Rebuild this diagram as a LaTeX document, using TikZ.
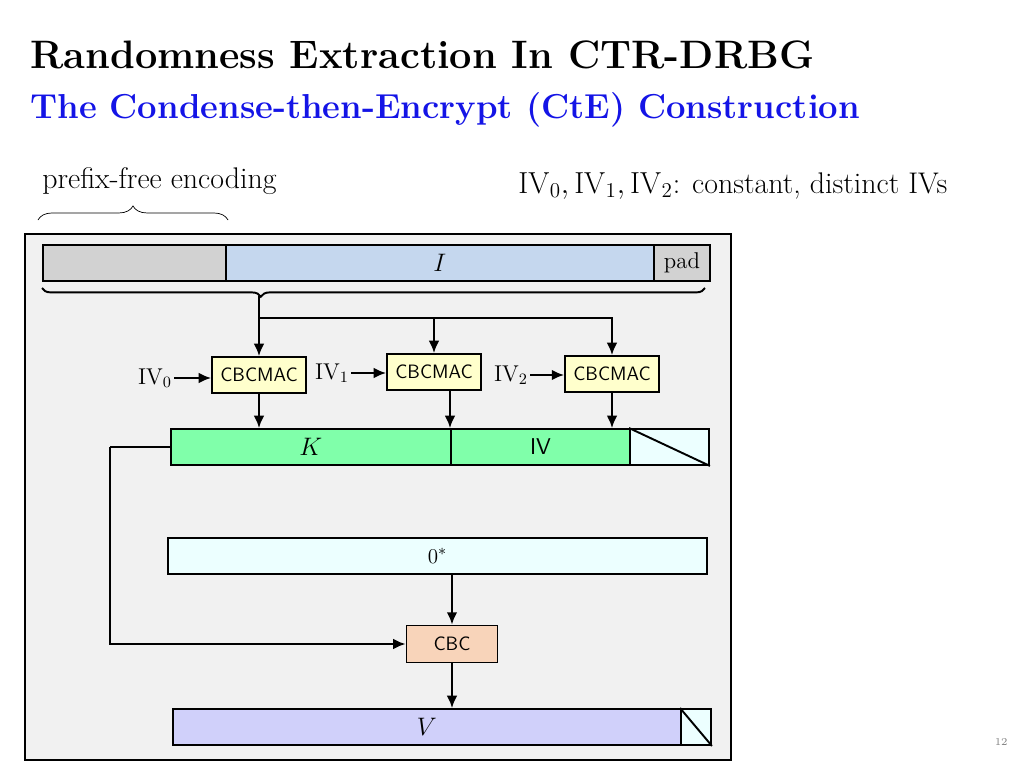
\documentclass[tikz,border=0pt]{standalone}
\usetikzlibrary{decorations.pathreplacing,arrows.meta}
\definecolor{titleblue}{RGB}{20,20,230}
\definecolor{frameback}{RGB}{241,241,241}
\definecolor{inblue}{RGB}{197,215,238}
\definecolor{macyellow}{RGB}{255,255,204}
\definecolor{keygreen}{RGB}{128,255,170}
\definecolor{palecyan}{RGB}{236,255,255}
\definecolor{cbcorange}{RGB}{248,212,186}
\definecolor{outviolet}{RGB}{208,208,250}
\begin{document}
\begin{tikzpicture}[x=0.02cm,y=-0.02cm]
% styles
\tikzstyle{bar}=[draw,line width=1.1pt,anchor=north west,inner sep=0pt,minimum height=0.72cm]
\tikzstyle{mac}=[draw,line width=1.1pt,inner sep=0pt,minimum width=1.88cm,minimum height=0.72cm,fill=macyellow,font=\sffamily\fontsize{11}{11}\selectfont]
\tikzstyle{flow}=[-{Latex[length=7pt,width=6pt]},line width=1.1pt]
\tikzstyle{ivlabel}=[inner sep=1pt,font=\fontsize{13}{14}\selectfont]
\useasboundingbox (0,0) rectangle (1024,768);
% titles
\node[anchor=base west,inner sep=0pt,font=\bfseries\fontsize{22.6}{26}\selectfont] (title) at (30,68) {Randomness Extraction In CTR-DRBG};
\node[anchor=base west,inner sep=0pt,font=\bfseries\fontsize{19.7}{22}\selectfont,text=titleblue] (sub) at (30,118) {The Condense-then-Encrypt (CtE) Construction};
\node[anchor=base west,inner sep=0pt,font=\fontsize{17}{19}\selectfont] (prefix) at (42,188) {prefix-free encoding};
\node[anchor=base west,inner sep=0pt,font=\fontsize{17}{19}\selectfont] (note) at (518,193) {$\mathrm{IV}_0,\mathrm{IV}_1,\mathrm{IV}_2$: constant, distinct IVs};
\node[anchor=base east,inner sep=0pt,text=gray,font=\fontsize{6}{7}\selectfont] (page) at (1008,745) {12};
\draw[decorate,decoration={brace,amplitude=8pt}] (38,220) -- (228,220);
% frame
\draw[fill=frameback,line width=1pt] (25,234) rectangle (731,760);
% input
\node[bar,fill=gray!35,minimum width=3.66cm] (enc) at (42,244) {};
\node[bar,fill=inblue,minimum width=8.56cm,font=\fontsize{15}{16}\selectfont] (I) at (225,244) {$I$};
\node[bar,fill=gray!35,minimum width=1.12cm,font=\fontsize{13}{14}\selectfont] (pad) at (653,244) {pad};
\draw[line width=1.1pt,decorate,decoration={brace,mirror,amplitude=5pt,aspect=0.33}] (42,288) -- (705,288);
\coordinate (tip) at (259,296);
\coordinate (split) at (259,318);
% cbcmacs
\node[mac] (mac0) at (259,375) {CBCMAC};
\node[mac] (mac1) at (434,372) {CBCMAC};
\node[mac] (mac2) at (612,374) {CBCMAC};
\node[ivlabel] (iv0) at (155,378) {IV$_0$};
\node[ivlabel] (iv1) at (332,373) {IV$_1$};
\node[ivlabel] (iv2) at (511,375) {IV$_2$};
\draw[flow] (tip) -- (mac0);
\draw[flow] (split) -| (mac1);
\draw[flow] (split) -| (mac2);
\draw[flow] (iv0.east) -- (iv0.east -| mac0.west);
\draw[flow] (iv1.east) -- (iv1.east -| mac1.west);
\draw[flow] (iv2.east) -- (iv2.east -| mac2.west);
% key and iv
\node[bar,fill=keygreen,minimum width=5.6cm,font=\fontsize{15}{16}\selectfont] (K) at (170,428) {$K$};
\node[bar,fill=keygreen,minimum width=3.58cm,font=\sffamily\fontsize{13}{14}\selectfont] (IV) at (450,428) {IV};
\node[bar,fill=palecyan,minimum width=1.58cm] (rest) at (629,428) {};
\draw[line width=1.1pt] (rest.north west) -- (rest.south east);
\draw[flow] (mac0) -- (mac0 |- K.north);
\draw[flow] (mac1.south -| IV.west) -- (IV.north west);
\draw[flow] (mac2) -- (mac2 |- IV.north);
% encryption
\node[bar,fill=palecyan,minimum width=10.78cm,font=\fontsize{13}{14}\selectfont] (zero) at (167,537) {$0^{*}$};
\node[draw,line width=1.1pt,fill=cbcorange,inner sep=0pt,minimum width=1.82cm,minimum height=0.74cm,font=\sffamily\fontsize{11}{11}\selectfont] (cbc) at (452,644) {CBC};
\node[bar,fill=outviolet,minimum width=10.16cm,font=\fontsize{15}{16}\selectfont] (V) at (172,708) {$V$};
\node[bar,fill=palecyan,minimum width=0.6cm] (tail) at (680,708) {};
\draw[line width=1.1pt] (tail.north west) -- (tail.south east);
\coordinate (bend) at (110,447);
\draw[line width=1.1pt] (K.west) -- (bend);
\draw[flow] (bend) |- (cbc);
\draw[flow] (cbc |- zero.south) -- (cbc);
\draw[flow] (cbc) -- (cbc |- V.north);
\end{tikzpicture}
\end{document}
